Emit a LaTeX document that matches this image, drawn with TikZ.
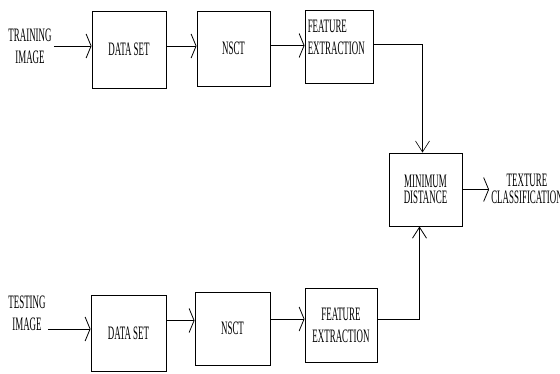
\documentclass[tikz,border=0pt]{standalone}
\usepackage{fontspec}
\setmainfont[FakeStretch=0.47]{Liberation Serif}
\usetikzlibrary{arrows.meta, calc}
\tikzset{
  box/.style={draw, line width=0.9pt, inner sep=0pt, align=center},
  lbl/.style={align=center, inner sep=2pt},
  tight/.style={align=center, font=\fontsize{19}{16.5}\selectfont},
  arr/.style={-{Straight Barb[length=5pt, width=24pt]}, line width=0.8pt},
  varr/.style={-{Straight Barb[length=11pt, width=14pt]}, line width=0.8pt},
}
\begin{document}
\begin{tikzpicture}[x=1pt, y=-1pt, font=\fontsize{19}{22}\selectfont]
  \useasboundingbox (0,0) rectangle (560,373);
  % training branch
  \node[lbl] (train) at (30,46) {TRAINING\\IMAGE};
  \node[box, minimum width=74pt, minimum height=77pt] (set1) at (129,49.5) {DATA SET};
  \node[box, minimum width=73pt, minimum height=75pt] (nsct1) at (233.5,48.5) {NSCT};
  \node[box, minimum width=68pt, minimum height=73pt] (feat1) at (339,47) {};
  \node[lbl, align=left, anchor=north west] (feat1txt) at ([xshift=1pt, yshift=-8pt]feat1.north west) {FEATURE\\EXTRACTION};
  % matching
  \node[box, tight, minimum width=73pt, minimum height=73pt] (mindist) at (425.5,189.5) {MINIMUM\\DISTANCE};
  \node[tight, inner sep=2pt] (result) at (527,189) {TEXTURE\\CLASSIFICATION};
  % testing branch
  \node[lbl] (test) at (27,313) {TESTING\\IMAGE};
  \node[box, minimum width=75pt, minimum height=76pt] (set2) at (128.5,333) {DATA SET};
  \node[box, minimum width=75pt, minimum height=73pt] (nsct2) at (232.5,328.5) {NSCT};
  \node[box, minimum width=72pt, minimum height=74pt] (feat2) at (341,325) {FEATURE\\EXTRACTION};
  \coordinate (in2) at ([yshift=4pt]set2.west);
  \coordinate (in3) at ([yshift=8pt]nsct2.west);
  \coordinate (in4) at ([yshift=6pt]feat2.west);
  \coordinate (up) at ([xshift=-6pt]mindist.south);
  % connectors
  \draw[arr] (train.east) -- (train.east -| set1.west);
  \draw[arr] (set1.east |- train.east) -- (nsct1.west |- train.east);
  \draw[arr] ([yshift=3pt]nsct1.east) -- ([yshift=3pt]nsct1.east -| feat1.west);
  \draw[varr, line width=0.6pt] ([yshift=3pt]feat1.east) -| ([xshift=-3pt]mindist.north);
  \draw[arr] (mindist.east) -- (mindist.east -| result.west);
  \draw[arr] (test.east |- in2) -- (in2);
  \draw[arr] (set2.east |- in3) -- (in3);
  \draw[arr] (nsct2.east |- in4) -- (in4);
  \draw[varr] (feat2.east |- in4) -| (up);
\end{tikzpicture}
\end{document}
